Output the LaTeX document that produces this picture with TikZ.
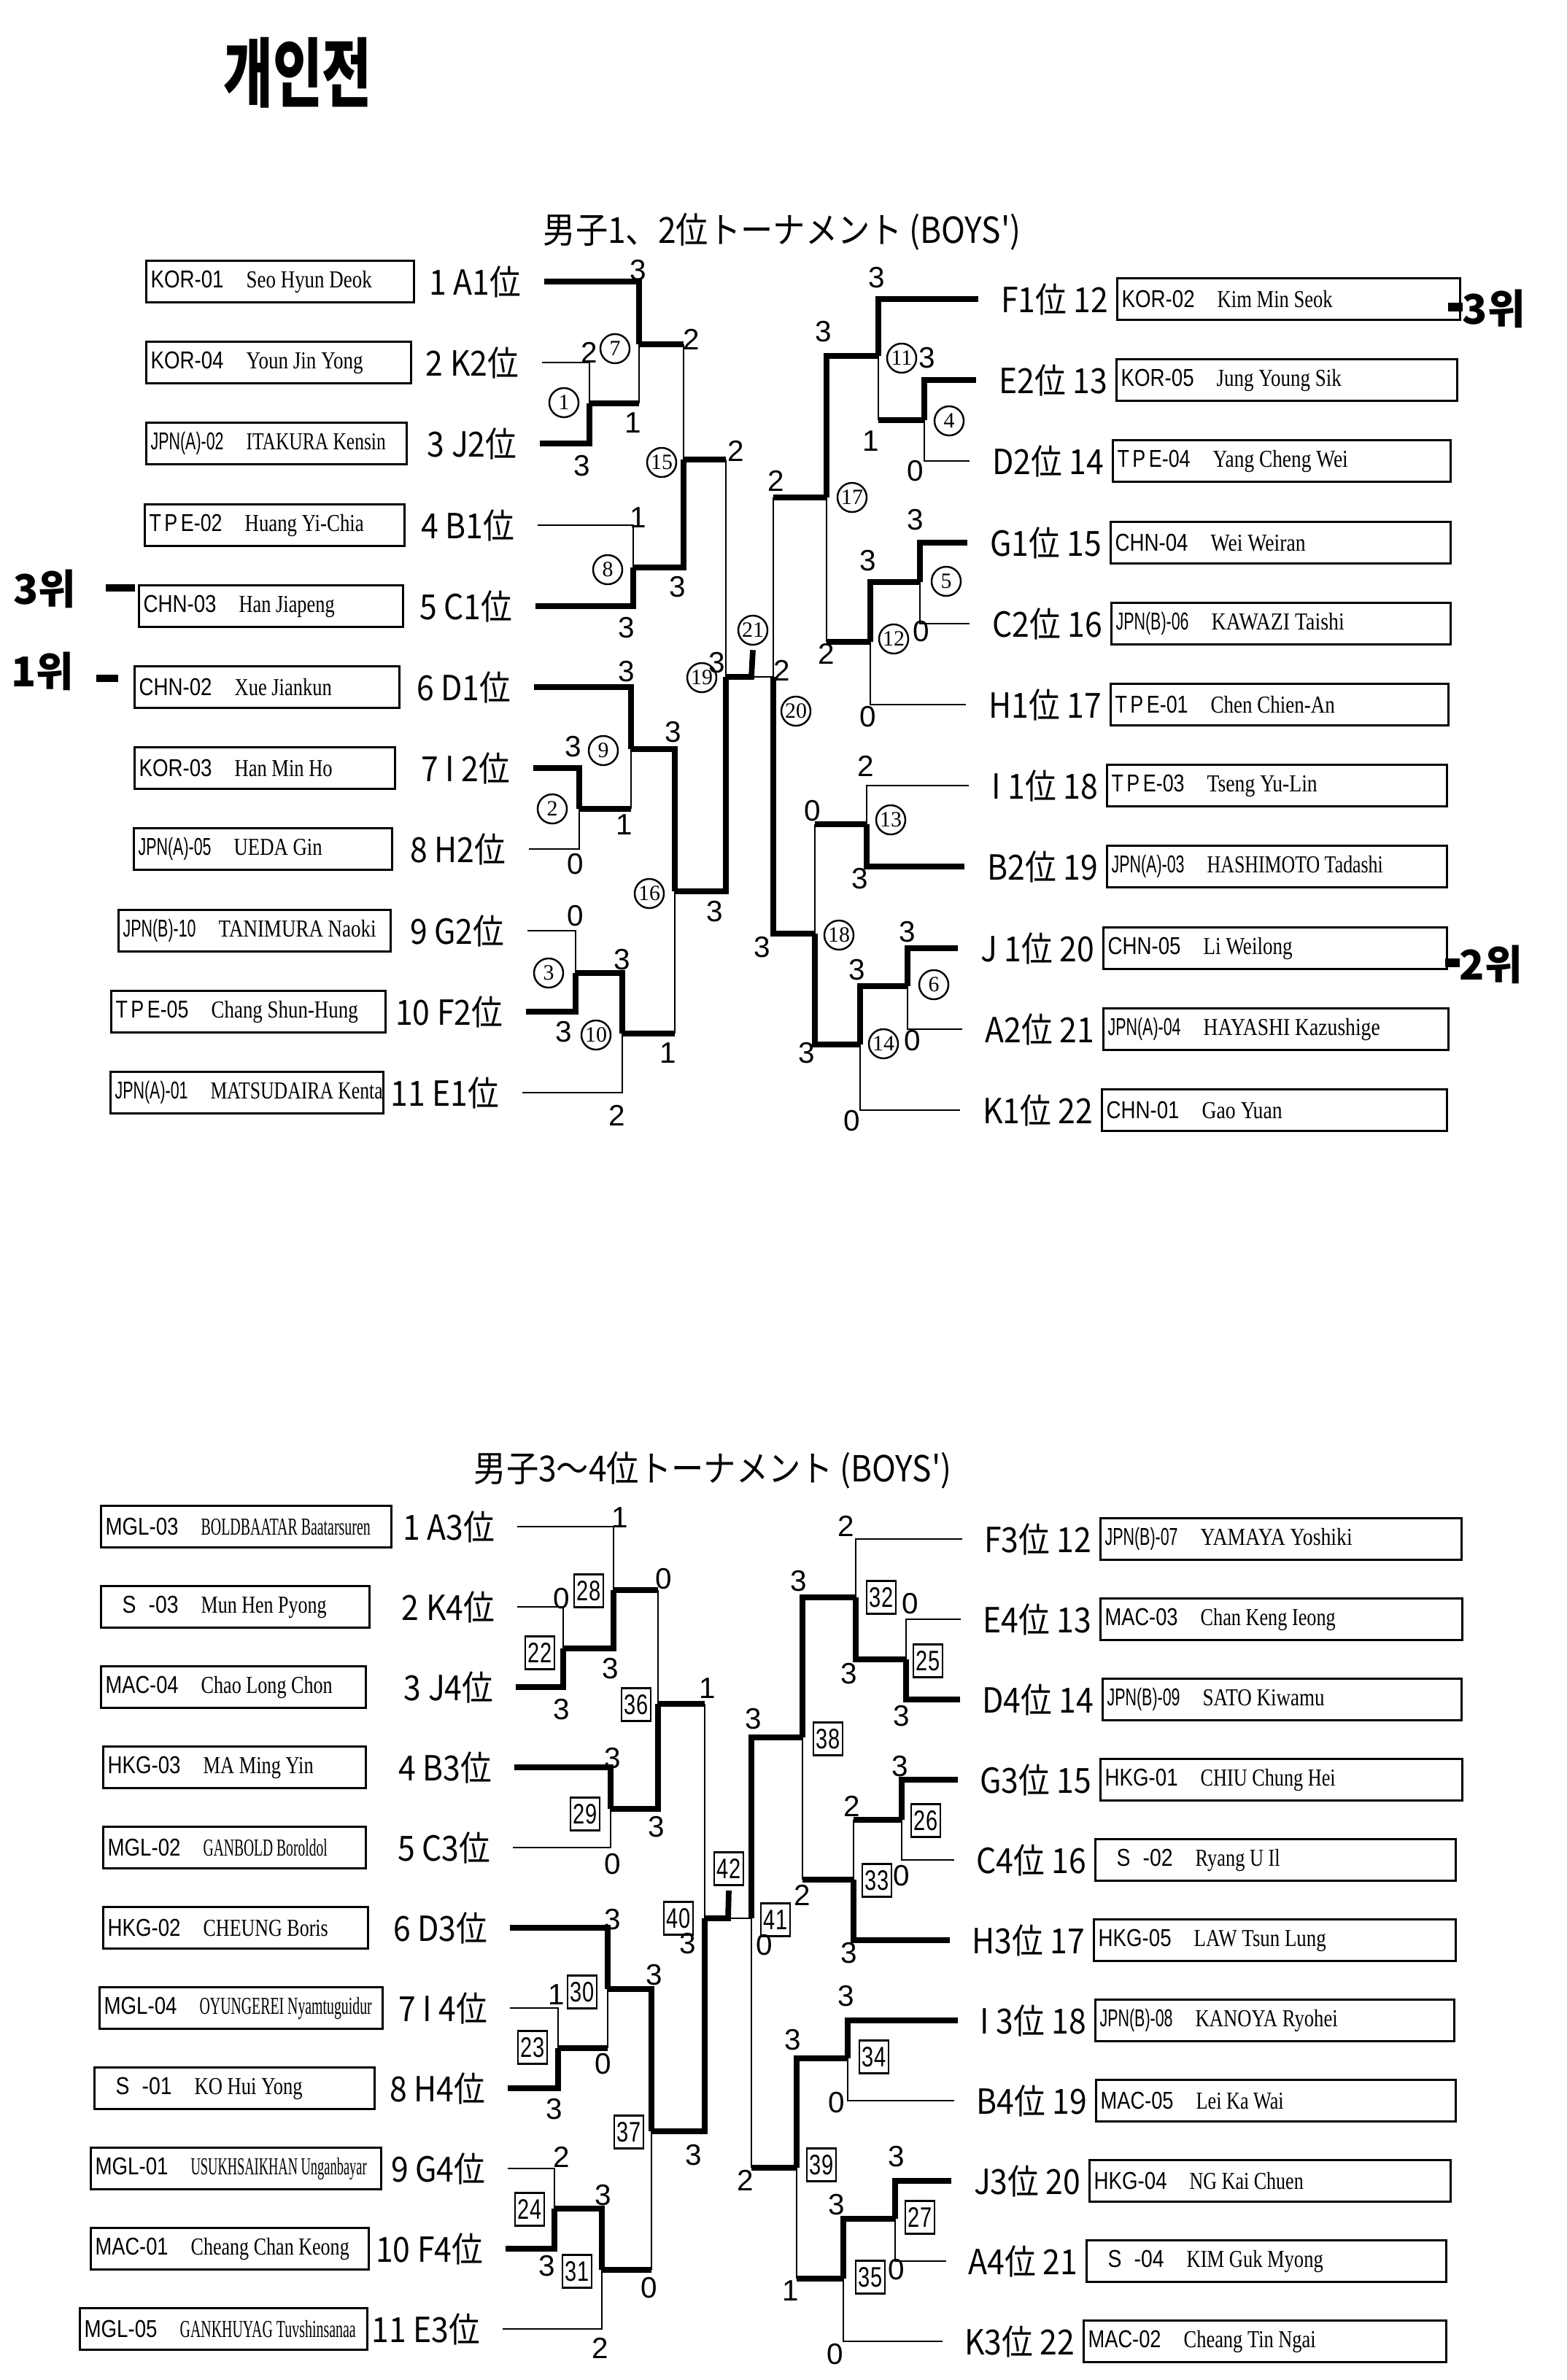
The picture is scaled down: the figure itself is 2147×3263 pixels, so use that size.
\documentclass[tikz,border=0pt]{standalone}
\usepackage{fontspec}
\usepackage{graphicx}
\usepackage{tikz}

\newfontfamily\jpfont[FakeStretch=0.9]{Noto Sans CJK JP}
\newfontfamily\krfont{Noto Sans CJK KR}
\newfontfamily\codefont{Liberation Sans}
\newfontfamily\namefont{Liberation Serif}
\newfontfamily\numfont[FakeStretch=0.75]{Liberation Sans}

% box width, code, name, name width
\newcommand{\player}[4]{\makebox[#1cm][l]{\hspace{0.06cm}\makebox[1.31cm][l]{\codefont\fontsize{9.5}{11}\selectfont\resizebox{1cm}{\height}{#2}}\namefont\fontsize{9.5}{11}\selectfont\resizebox{#4cm}{\height}{#3}}}

\begin{document}
\begin{tikzpicture}[x=0.01cm, y=-0.01cm,
    namebox/.style={draw, line width=0.9pt, anchor=west, inner sep=0pt, minimum height=0.57cm},
    seed/.style={inner sep=0pt, font=\jpfont\fontsize{13.5}{14}\selectfont},
    title/.style={inner sep=0pt, font=\jpfont\fontsize{14}{14}\selectfont},
    game/.style={circle, draw, line width=0.7pt, inner sep=0pt, minimum size=0.4cm, font=\namefont\fontsize{8.5}{9}\selectfont},
    gamesq/.style={draw, line width=0.8pt, inner sep=0pt, minimum width=0.4cm, minimum height=0.45cm, font=\numfont\fontsize{11}{11}\selectfont},
    score/.style={inner sep=0pt, font=\codefont\fontsize{11.5}{12}\selectfont},
    note/.style={inner sep=0pt, font=\krfont\bfseries\fontsize{16}{16}\selectfont},
    win/.style={line width=2.2pt},
    lose/.style={line width=0.8pt}]
    \useasboundingbox (0,0) rectangle (2147,3263);

    % handwritten notes
    \node[note, font=\krfont\bfseries\fontsize{21}{21}\selectfont] (H0) at (408,100) {\scalebox{1}[1.4]{개인전}};
    \node[note, anchor=west] (H1) at (18,807) {3위\hspace{0.4cm}\rule[0.3em]{0.4cm}{0.1cm}};
    \node[note, anchor=west] (H2) at (15,920) {1위\hspace{0.3cm}\rule[0.1em]{0.3cm}{0.1cm}};
    \node[note, anchor=west] (H3) at (1984,423) {\rule[0.3em]{0.2cm}{0.12cm}3위};
    \node[note, anchor=west] (H4) at (1980,1322) {\rule[0.3em]{0.2cm}{0.12cm}2위};

    % boys 1st/2nd place tournament
    \node[title] (TT) at (1072,318) {男子1、2位トーナメント (BOYS')};

    \node[namebox] (T1) at (199,386) {\player{3.67}{KOR-01}{Seo Hyun Deok}{1.72}};
    \node[namebox] (T2) at (199,497) {\player{3.63}{KOR-04}{Youn Jin Yong}{1.60}};
    \node[namebox] (T3) at (199,608) {\player{3.57}{JPN(A)-02}{ITAKURA Kensin}{1.91}};
    \node[namebox] (T4) at (197,720) {\player{3.56}{T\,P\,E-02}{Huang Yi-Chia}{1.63}};
    \node[namebox] (T5) at (189,831) {\player{3.62}{CHN-03}{Han Jiapeng}{1.31}};
    \node[namebox] (T6) at (183,942) {\player{3.63}{CHN-02}{Xue Jiankun}{1.33}};
    \node[namebox] (T7) at (183,1053) {\player{3.57}{KOR-03}{Han Min Ho}{1.34}};
    \node[namebox] (T8) at (182,1164) {\player{3.54}{JPN(A)-05}{UEDA Gin}{1.21}};
    \node[namebox] (T9) at (161,1276) {\player{3.73}{JPN(B)-10}{TANIMURA Naoki}{2.16}};
    \node[namebox] (T10) at (151,1387) {\player{3.76}{T\,P\,E-05}{Chang Shun-Hung}{2.01}};
    \node[namebox] (T11) at (150,1498) {\player{3.74}{JPN(A)-01}{MATSUDAIRA Kenta}{2.36}};

    \node[seed, anchor=east] (S1) at (715,386) {1 A1位};
    \node[seed, anchor=east] (S2) at (712,497) {2 K2位};
    \node[seed, anchor=east] (S3) at (709,608) {3 J2位};
    \node[seed, anchor=east] (S4) at (706,720) {4 B1位};
    \node[seed, anchor=east] (S5) at (703,831) {5 C1位};
    \node[seed, anchor=east] (S6) at (701,942) {6 D1位};
    \node[seed, anchor=east] (S7) at (700,1053) {7 I 2位};
    \node[seed, anchor=east] (S8) at (694,1164) {8 H2位};
    \node[seed, anchor=east] (S9) at (692,1276) {9 G2位};
    \node[seed, anchor=east] (S10) at (690,1387) {10 F2位};
    \node[seed, anchor=east] (S11) at (685,1498) {11 E1位};

    \node[namebox] (T12) at (1530,410) {\player{4.70}{KOR-02}{Kim Min Seok}{1.58}};
    \node[namebox] (T13) at (1529,521) {\player{4.67}{KOR-05}{Jung Young Sik}{1.71}};
    \node[namebox] (T14) at (1524,632) {\player{4.63}{T\,P\,E-04}{Yang Cheng Wei}{1.85}};
    \node[namebox] (T15) at (1521,744) {\player{4.66}{CHN-04}{Wei Weiran}{1.30}};
    \node[namebox] (T16) at (1522,855) {\player{4.65}{JPN(B)-06}{KAWAZI Taishi}{1.82}};
    \node[namebox] (T17) at (1521,966) {\player{4.63}{T\,P\,E-01}{Chen Chien-An}{1.70}};
    \node[namebox] (T18) at (1516,1077) {\player{4.66}{T\,P\,E-03}{Tseng Yu-Lin}{1.51}};
    \node[namebox] (T19) at (1516,1188) {\player{4.66}{JPN(A)-03}{HASHIMOTO Tadashi}{2.41}};
    \node[namebox] (T20) at (1511,1300) {\player{4.71}{CHN-05}{Li Weilong}{1.22}};
    \node[namebox] (T21) at (1511,1411) {\player{4.73}{JPN(A)-04}{HAYASHI Kazushige}{2.42}};
    \node[namebox] (T22) at (1509,1522) {\player{4.73}{CHN-01}{Gao Yuan}{1.10}};

    \node[seed, anchor=east] (S12) at ([xshift=-0.1cm]T12.west) {F1位 12};
    \node[seed, anchor=east] (S13) at ([xshift=-0.1cm]T13.west) {E2位 13};
    \node[seed, anchor=east] (S14) at ([xshift=-0.1cm]T14.west) {D2位 14};
    \node[seed, anchor=east] (S15) at ([xshift=-0.1cm]T15.west) {G1位 15};
    \node[seed, anchor=east] (S16) at ([xshift=-0.1cm]T16.west) {C2位 16};
    \node[seed, anchor=east] (S17) at ([xshift=-0.1cm]T17.west) {H1位 17};
    \node[seed, anchor=east] (S18) at ([xshift=-0.1cm]T18.west) {I 1位 18};
    \node[seed, anchor=east] (S19) at ([xshift=-0.1cm]T19.west) {B2位 19};
    \node[seed, anchor=east] (S20) at ([xshift=-0.1cm]T20.west) {J 1位 20};
    \node[seed, anchor=east] (S21) at ([xshift=-0.1cm]T21.west) {A2位 21};
    \node[seed, anchor=east] (S22) at ([xshift=-0.1cm]T22.west) {K1位 22};

    % game corners
    \coordinate (G1) at (808,553);
    \coordinate (G2) at (794,1109);
    \coordinate (G3) at (789,1334);
    \coordinate (G4) at (1267,576);
    \coordinate (G5) at (1261,798);
    \coordinate (G6) at (1244,1352);
    \coordinate (G7) at (876,472);
    \coordinate (G8) at (868,778);
    \coordinate (G9) at (865,1027);
    \coordinate (G10) at (853,1417);
    \coordinate (G11) at (1204,488);
    \coordinate (G12) at (1193,880);
    \coordinate (G13) at (1188,1130);
    \coordinate (G14) at (1179,1432);
    \coordinate (G15) at (937,630);
    \coordinate (G16) at (925,1222);
    \coordinate (G17) at (1133,682);
    \coordinate (G18) at (1117,1280);
    \coordinate (G19) at (995,928);
    \coordinate (G20) at (1060,928);
    \coordinate (G21) at (1030,928);

    \node[game] (N1) at (773,552) {1};
    \node[game] (N2) at (757,1109) {2};
    \node[game] (N3) at (752,1334) {3};
    \node[game] (N4) at (1301,577) {4};
    \node[game] (N5) at (1297,797) {5};
    \node[game] (N6) at (1280,1350) {6};
    \node[game] (N7) at (843,478) {7};
    \node[game] (N8) at (833,781) {8};
    \node[game] (N9) at (827,1029) {9};
    \node[game] (N10) at (817,1419) {10};
    \node[game] (N11) at (1236,491) {11};
    \node[game] (N12) at (1225,876) {12};
    \node[game] (N13) at (1221,1124) {13};
    \node[game] (N14) at (1211,1431) {14};
    \node[game] (N15) at (907,634) {15};
    \node[game] (N16) at (890,1225) {16};
    \node[game] (N17) at (1168,682) {17};
    \node[game] (N18) at (1150,1282) {18};
    \node[game] (N19) at (962,929) {19};
    \node[game] (N20) at (1091,975) {20};
    \node[game] (N21) at (1032,864) {21};

    \draw[lose] ([xshift=0.31cm]S2.east) -| (G1);
    \draw[win] ([xshift=0.31cm]S3.east) -| (G1);
    \draw[win] ([xshift=0.31cm]S1.east) -| (G7);
    \draw[win] (G1) -- (G1 -| G7) edge[lose] (G7);
    \draw[lose] ([xshift=0.31cm]S4.east) -| (G8);
    \draw[win] ([xshift=0.31cm]S5.east) -| (G8);
    \draw[win] (G7) -- (G7 -| G15) edge[lose] (G15);
    \draw[win] (G8) -| (G15);
    \draw[win] ([xshift=0.31cm]S7.east) -| (G2);
    \draw[lose] ([xshift=0.31cm]S8.east) -| (G2);
    \draw[win] ([xshift=0.31cm]S6.east) -| (G9);
    \draw[win] (G2) -- (G2 -| G9) edge[lose] (G9);
    \draw[lose] ([xshift=0.31cm]S9.east) -| (G3);
    \draw[win] ([xshift=0.31cm]S10.east) -| (G3);
    \draw[win] (G3) -| (G10);
    \draw[lose] ([xshift=0.31cm]S11.east) -| (G10);
    \draw[win] (G9) -| (G16);
    \draw[win] (G10) -- (G10 -| G16) edge[lose] (G16);
    \draw[win] (G15) -- (G15 -| G19) edge[lose] (G19);
    \draw[win] (G16) -| (G19);

    \draw[win] ([xshift=-0.31cm]S13.west) -| (G4);
    \draw[lose] ([xshift=-0.31cm]S14.west) -| (G4);
    \draw[win] ([xshift=-0.31cm]S12.west) -| (G11);
    \draw[win] (G4) -- (G4 -| G11) edge[lose] (G11);
    \draw[win] ([xshift=-0.31cm]S15.west) -| (G5);
    \draw[lose] ([xshift=-0.31cm]S16.west) -| (G5);
    \draw[win] (G5) -| (G12);
    \draw[lose] ([xshift=-0.31cm]S17.west) -| (G12);
    \draw[win] (G11) -| (G17);
    \draw[win] (G12) -- (G12 -| G17) edge[lose] (G17);
    \draw[lose] ([xshift=-0.31cm]S18.west) -| (G13);
    \draw[win] ([xshift=-0.31cm]S19.west) -| (G13);
    \draw[win] ([xshift=-0.31cm]S20.west) -| (G6);
    \draw[lose] ([xshift=-0.31cm]S21.west) -| (G6);
    \draw[win] (G6) -| (G14);
    \draw[lose] ([xshift=-0.31cm]S22.west) -| (G14);
    \draw[win] (G13) -- (G13 -| G18) edge[lose] (G18);
    \draw[win] (G14) -| (G18);
    \draw[win] (G17) -- (G17 -| G20) edge[lose] (G20);
    \draw[win] (G18) -| (G20);

    \draw[win] (G19) -- (G21) -- ([yshift=-0.06cm]N21.south);
    \draw[lose] (G21) -- (G20);

    % boys 3rd/4th place tournament
    \node[title] (TB) at (977,2016) {男子3～4位トーナメント (BOYS')};

    \node[namebox] (U1) at (137,2093) {\player{3.98}{MGL-03}{BOLDBAATAR Baatarsuren}{2.32}};
    \node[namebox] (U2) at (137,2203) {\player{3.68}{\hspace*{0.27cm}S\hspace{0.2cm}-03}{Mun Hen Pyong}{1.72}};
    \node[namebox] (U3) at (137,2313) {\player{3.63}{MAC-04}{Chao Long Chon}{1.80}};
    \node[namebox] (U4) at (140,2423) {\player{3.60}{HKG-03}{MA Ming Yin}{1.51}};
    \node[namebox] (U5) at (140,2533) {\player{3.60}{MGL-02}{GANBOLD Boroldol}{1.70}};
    \node[namebox] (U6) at (140,2643) {\player{3.63}{HKG-02}{CHEUNG Boris}{1.71}};
    \node[namebox] (U7) at (135,2753) {\player{3.88}{MGL-04}{OYUNGEREI Nyamtuguidur}{2.36}};
    \node[namebox] (U8) at (128,2863) {\player{3.84}{\hspace*{0.27cm}S\hspace{0.2cm}-01}{KO Hui Yong}{1.48}};
    \node[namebox] (U9) at (123,2973) {\player{3.98}{MGL-01}{USUKHSAIKHAN Unganbayar}{2.41}};
    \node[namebox] (U10) at (123,3083) {\player{3.81}{MAC-01}{Cheang Chan Keong}{2.17}};
    \node[namebox] (U11) at (108,3193) {\player{3.94}{MGL-05}{GANKHUYAG Tuvshinsanaa}{2.41}};

    \node[seed, anchor=east] (V1) at (679,2093) {1 A3位};
    \node[seed, anchor=east] (V2) at (679,2203) {2 K4位};
    \node[seed, anchor=east] (V3) at (677,2313) {3 J4位};
    \node[seed, anchor=east] (V4) at (675,2423) {4 B3位};
    \node[seed, anchor=east] (V5) at (673,2533) {5 C3位};
    \node[seed, anchor=east] (V6) at (669,2643) {6 D3位};
    \node[seed, anchor=east] (V7) at (669,2753) {7 I 4位};
    \node[seed, anchor=east] (V8) at (666,2863) {8 H4位};
    \node[seed, anchor=east] (V9) at (666,2973) {9 G4位};
    \node[seed, anchor=east] (V10) at (663,3083) {10 F4位};
    \node[seed, anchor=east] (V11) at (659,3193) {11 E3位};

    \node[namebox] (U12) at (1507,2110) {\player{4.95}{JPN(B)-07}{YAMAYA Yoshiki}{2.08}};
    \node[namebox] (U13) at (1507,2220) {\player{4.96}{MAC-03}{Chan Keng Ieong}{1.85}};
    \node[namebox] (U14) at (1510,2330) {\player{4.92}{JPN(B)-09}{SATO Kiwamu}{1.67}};
    \node[namebox] (U15) at (1507,2440) {\player{4.96}{HKG-01}{CHIU Chung Hei}{1.85}};
    \node[namebox] (U16) at (1500,2550) {\player{4.94}{\hspace*{0.27cm}S\hspace{0.2cm}-02}{Ryang U Il}{1.16}};
    \node[namebox] (U17) at (1498,2660) {\player{4.96}{HKG-05}{LAW Tsun Lung}{1.81}};
    \node[namebox] (U18) at (1500,2770) {\player{4.92}{JPN(B)-08}{KANOYA Ryohei}{1.95}};
    \node[namebox] (U19) at (1501,2880) {\player{4.93}{MAC-05}{Lei Ka Wai}{1.20}};
    \node[namebox] (U20) at (1492,2990) {\player{4.95}{HKG-04}{NG Kai Chuen}{1.56}};
    \node[namebox] (U21) at (1488,3100) {\player{4.93}{\hspace*{0.27cm}S\hspace{0.2cm}-04}{KIM Guk Myong}{1.87}};
    \node[namebox] (U22) at (1484,3210) {\player{4.97}{MAC-02}{Cheang Tin Ngai}{1.81}};

    \node[seed, anchor=east] (V12) at ([xshift=-0.1cm]U12.west) {F3位 12};
    \node[seed, anchor=east] (V13) at ([xshift=-0.1cm]U13.west) {E4位 13};
    \node[seed, anchor=east] (V14) at ([xshift=-0.1cm]U14.west) {D4位 14};
    \node[seed, anchor=east] (V15) at ([xshift=-0.1cm]U15.west) {G3位 15};
    \node[seed, anchor=east] (V16) at ([xshift=-0.1cm]U16.west) {C4位 16};
    \node[seed, anchor=east] (V17) at ([xshift=-0.1cm]U17.west) {H3位 17};
    \node[seed, anchor=east] (V18) at ([xshift=-0.1cm]U18.west) {I 3位 18};
    \node[seed, anchor=east] (V19) at ([xshift=-0.1cm]U19.west) {B4位 19};
    \node[seed, anchor=east] (V20) at ([xshift=-0.1cm]U20.west) {J3位 20};
    \node[seed, anchor=east] (V21) at ([xshift=-0.1cm]U21.west) {A4位 21};
    \node[seed, anchor=east] (V22) at ([xshift=-0.1cm]U22.west) {K3位 22};

    \coordinate (G22) at (772,2260);
    \coordinate (G23) at (765,2808);
    \coordinate (G24) at (760,3028);
    \coordinate (G25) at (1242,2275);
    \coordinate (G26) at (1236,2495);
    \coordinate (G27) at (1227,3042);
    \coordinate (G28) at (841,2180);
    \coordinate (G29) at (837,2480);
    \coordinate (G30) at (833,2727);
    \coordinate (G31) at (825,3112);
    \coordinate (G32) at (1173,2190);
    \coordinate (G33) at (1170,2577);
    \coordinate (G34) at (1162,2822);
    \coordinate (G35) at (1156,3124);
    \coordinate (G36) at (902,2336);
    \coordinate (G37) at (893,2922);
    \coordinate (G38) at (1100,2382);
    \coordinate (G39) at (1092,2972);
    \coordinate (G40) at (966,2630);
    \coordinate (G41) at (1030,2630);
    \coordinate (G42) at (998,2630);

    \node[gamesq] (N22) at (740,2266) {22};
    \node[gamesq] (N23) at (730,2807) {23};
    \node[gamesq] (N24) at (726,3029) {24};
    \node[gamesq] (N25) at (1272,2277) {25};
    \node[gamesq] (N26) at (1269,2496) {26};
    \node[gamesq] (N27) at (1261,3040) {27};
    \node[gamesq] (N28) at (807,2181) {28};
    \node[gamesq] (N29) at (802,2487) {29};
    \node[gamesq] (N30) at (798,2731) {30};
    \node[gamesq] (N31) at (791,3114) {31};
    \node[gamesq] (N32) at (1208,2190) {32};
    \node[gamesq] (N33) at (1202,2578) {33};
    \node[gamesq] (N34) at (1198,2820) {34};
    \node[gamesq] (N35) at (1193,3122) {35};
    \node[gamesq] (N36) at (872,2337) {36};
    \node[gamesq] (N37) at (862,2923) {37};
    \node[gamesq] (N38) at (1135,2384) {38};
    \node[gamesq] (N39) at (1126,2968) {39};
    \node[gamesq] (N40) at (930,2630) {40};
    \node[gamesq] (N41) at (1063,2632) {41};
    \node[gamesq] (N42) at (999,2562) {42};

    \draw[lose] ([xshift=0.3cm]V2.east) -| (G22);
    \draw[win] ([xshift=0.3cm]V3.east) -| (G22);
    \draw[lose] ([xshift=0.3cm]V1.east) -| (G28);
    \draw[win] (G22) -| (G28);
    \draw[win] ([xshift=0.3cm]V4.east) -| (G29);
    \draw[lose] ([xshift=0.3cm]V5.east) -| (G29);
    \draw[win] (G28) -- (G28 -| G36) edge[lose] (G36);
    \draw[win] (G29) -| (G36);
    \draw[lose] ([xshift=0.3cm]V7.east) -| (G23);
    \draw[win] ([xshift=0.3cm]V8.east) -| (G23);
    \draw[win] ([xshift=0.3cm]V6.east) -| (G30);
    \draw[win] (G23) -- (G23 -| G30) edge[lose] (G30);
    \draw[lose] ([xshift=0.3cm]V9.east) -| (G24);
    \draw[win] ([xshift=0.3cm]V10.east) -| (G24);
    \draw[win] (G24) -| (G31);
    \draw[lose] ([xshift=0.3cm]V11.east) -| (G31);
    \draw[win] (G30) -| (G37);
    \draw[win] (G31) -- (G31 -| G37) edge[lose] (G37);
    \draw[win] (G36) -- (G36 -| G40) edge[lose] (G40);
    \draw[win] (G37) -| (G40);

    \draw[lose] ([xshift=-0.3cm]V13.west) -| (G25);
    \draw[win] ([xshift=-0.3cm]V14.west) -| (G25);
    \draw[lose] ([xshift=-0.3cm]V12.west) -| (G32);
    \draw[win] (G25) -| (G32);
    \draw[win] ([xshift=-0.3cm]V15.west) -| (G26);
    \draw[lose] ([xshift=-0.3cm]V16.west) -| (G26);
    \draw[win] (G26) -- (G26 -| G33) edge[lose] (G33);
    \draw[win] ([xshift=-0.3cm]V17.west) -| (G33);
    \draw[win] (G32) -| (G38);
    \draw[win] (G33) -- (G33 -| G38) edge[lose] (G38);
    \draw[win] ([xshift=-0.3cm]V18.west) -| (G34);
    \draw[lose] ([xshift=-0.3cm]V19.west) -| (G34);
    \draw[win] ([xshift=-0.3cm]V20.west) -| (G27);
    \draw[lose] ([xshift=-0.3cm]V21.west) -| (G27);
    \draw[win] (G27) -| (G35);
    \draw[lose] ([xshift=-0.3cm]V22.west) -| (G35);
    \draw[win] (G34) -| (G39);
    \draw[win] (G35) -- (G35 -| G39) edge[lose] (G39);
    \draw[win] (G38) -| (G41);
    \draw[win] (G39) -- (G39 -| G41) edge[lose] (G41);

    \draw[win] (G40) -- (G42) -- ([yshift=-0.06cm]N42.south);
    \draw[lose] (G42) -- (G41);

    % handwritten scores
    \foreach \x/\y/\t [count=\k] in {808/483/2, 798/639/3, 875/371/3, 868/580/1, 875/710/1, 859/861/3,
        948/465/2, 929/805/3, 786/1024/3, 789/1185/0, 859/921/3, 856/1131/1, 789/1256/0, 773/1415/3,
        853/1316/3, 846/1529/2, 923/1004/3, 916/1444/1, 1009/618/2, 980/1250/3, 983/909/3,
        1064/659/2, 1045/1299/3, 1072/919/2, 1271/491/3, 1255/646/0, 1202/381/3, 1194/605/1,
        1255/713/3, 1263/866/0, 1190/769/3, 1190/983/0, 1129/455/3, 1133/896/2, 1187/1050/2,
        1179/1205/3, 1244/1278/3, 1251/1427/0, 1175/1330/3, 1168/1537/0, 1114/1112/0, 1106/1444/3,
        770/2192/0, 770/2344/3, 850/2081/1, 837/2288/3, 840/2411/3, 840/2556/0, 910/2165/0,
        900/2505/3, 970/2315/1, 951/2955/3, 943/2665/3, 763/2735/1, 760/2892/3, 840/2632/3,
        827/2830/0, 770/2957/2, 750/3107/3, 827/3010/3, 823/3219/2, 897/2708/3, 890/3137/0,
        1248/2199/0, 1236/2353/3, 1160/2092/2, 1164/2295/3, 1234/2422/3, 1236/2572/0, 1168/2476/2,
        1164/2678/3, 1095/2168/3, 1100/2598/2, 1033/2357/3, 1022/2989/2, 1048/2667/0, 1160/2737/3,
        1147/2883/0, 1229/2957/3, 1229/3112/0, 1147/3023/3, 1145/3228/0, 1087/2797/3, 1084/3141/1}
        \node[score] (sc\k) at (\x,\y) {\t};
\end{tikzpicture}
\end{document}
